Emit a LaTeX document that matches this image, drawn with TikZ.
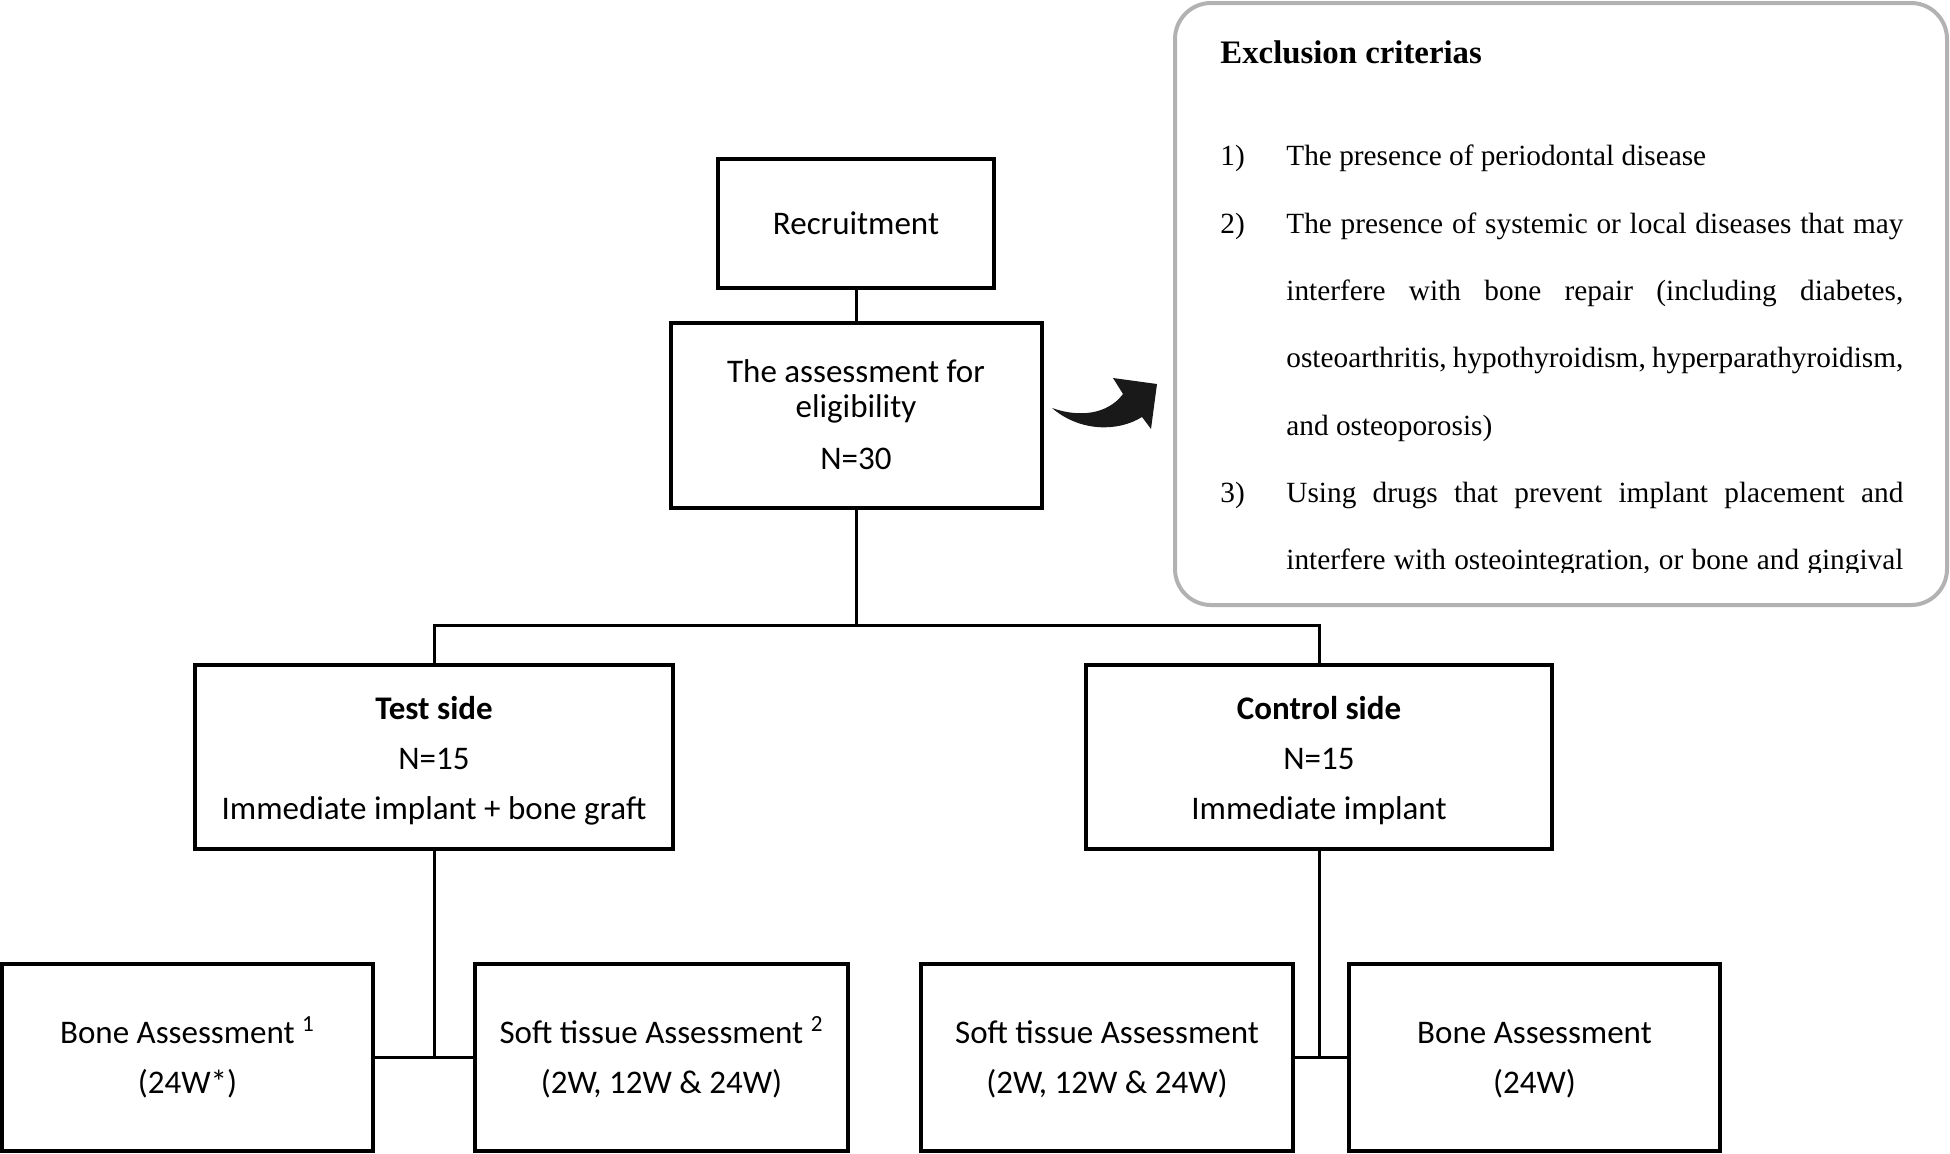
\documentclass[tikz,border=0pt]{standalone}
\usepackage{fontspec}
\setmainfont{Carlito}
\newfontfamily\timesfont{Liberation Serif}
\usepackage{tikz}
\usetikzlibrary{calc,positioning}
\definecolor{exclgray}{RGB}{178,178,178}

\begin{document}
\begin{tikzpicture}[x=0.5pt,y=-0.5pt,
      box/.style={draw, line width=2pt, align=center, inner sep=0pt, font=\fontsize{16.5}{25}\selectfont},
      link/.style={line width=1.5pt},
      crit/.style={anchor=base west, inner sep=0pt, font=\timesfont\fontsize{14.65}{17}\selectfont}]
   \useasboundingbox (0,0) rectangle (1950,1153);

   \node[box, minimum width=138pt, minimum height=64.5pt] (recruit) at (856,223) {Recruitment};
   \node[box, minimum width=185.5pt, minimum height=92.5pt, font=\fontsize{16.5}{17.5}\selectfont] (elig) at (856,415)
        {The assessment for\\eligibility\\[8.5pt]N=30};
       \draw[link] (recruit) -- (elig);

   \node[box, minimum width=239pt, minimum height=92pt] (testside) at (434,757)
        {\rule{0pt}{15pt}\textbf{Test side}\\N=15\\Immediate implant + bone graft};
   \node[box, minimum width=233pt, minimum height=92pt] (ctrlside) at (1319,757)
        {\rule{0pt}{15pt}\textbf{Control side}\\N=15\\Immediate implant};
       \coordinate (split) at (856,625);
       \draw[link] (elig) -- (split);
       \draw[link] (testside.north) |- (split) -| (ctrlside.north);

   \node[box, minimum width=185.5pt, minimum height=93.5pt] (bonetest) at (187.5,1057.5)
        {Bone Assessment \textsuperscript{1}\\(24W*)};
   \node[box, minimum width=186.5pt, minimum height=93.5pt] (softtest) at (661.5,1057.5)
        {Soft tissue Assessment \textsuperscript{2}\\(2W, 12W \& 24W)};
       \draw[link] (bonetest) -- (softtest);
       \draw[link] (testside) -- (testside |- bonetest.east);

   \node[box, minimum width=186pt, minimum height=93.5pt] (softctrl) at (1107,1057.5)
        {Soft tissue Assessment\vphantom{\textsuperscript{2}}\\(2W, 12W \& 24W)};
   \node[box, minimum width=185.5pt, minimum height=93.5pt] (bonectrl) at (1534.5,1057.5)
        {Bone Assessment\vphantom{\textsuperscript{1}}\\(24W)};
       \draw[link] (softctrl) -- (bonectrl);
       \draw[link] (ctrlside) -- (ctrlside |- softctrl.east);

   \fill[black!90] (1052,408) .. controls (1080,418) and (1108,414) .. (1123,394) -- (1113,378) -- (1157,384)
        -- (1151,429) -- (1142,417) .. controls (1118,432) and (1080,432) .. (1052,408) -- cycle;

   \node[draw=exclgray, line width=2pt, rounded corners=18pt, minimum width=386pt, minimum height=301pt] (excl) at (1561,304) {};
      \node[crit, font=\timesfont\bfseries\fontsize{16.4}{18}\selectfont] (excltitle) at (1220,63) {Exclusion criterias};
      \node[crit] (num1) at (1220,165) {1)};
        \node[crit] (item1) at (1286,165) {The presence of periodontal disease};
      \node[crit] (num2) at (1220,233) {2)};
        \node[crit] (item2a) at (1286,233) {\makebox[308.5pt][s]{The presence of systemic or local diseases that may}};
        \node[crit] (item2b) at (1286,300) {\makebox[308.5pt][s]{interfere with bone repair (including diabetes,}};
        \node[crit] (item2c) at (1286,367) {\makebox[308.5pt][s]{osteoarthritis, hypothyroidism, hyperparathyroidism,}};
        \node[crit] (item2d) at (1286,435) {and osteoporosis)};
      \node[crit] (num3) at (1220,502) {3)};
        \node[crit] (item3a) at (1286,502) {\makebox[308.5pt][s]{Using drugs that prevent implant placement and}};
      \begin{scope}
        \clip (1180,520) rectangle (1945,572);
        \node[crit] (item3b) at (1286,569) {\makebox[308.5pt][s]{interfere with osteointegration, or bone and gingival}};
      \end{scope}

\end{tikzpicture}
\end{document}
